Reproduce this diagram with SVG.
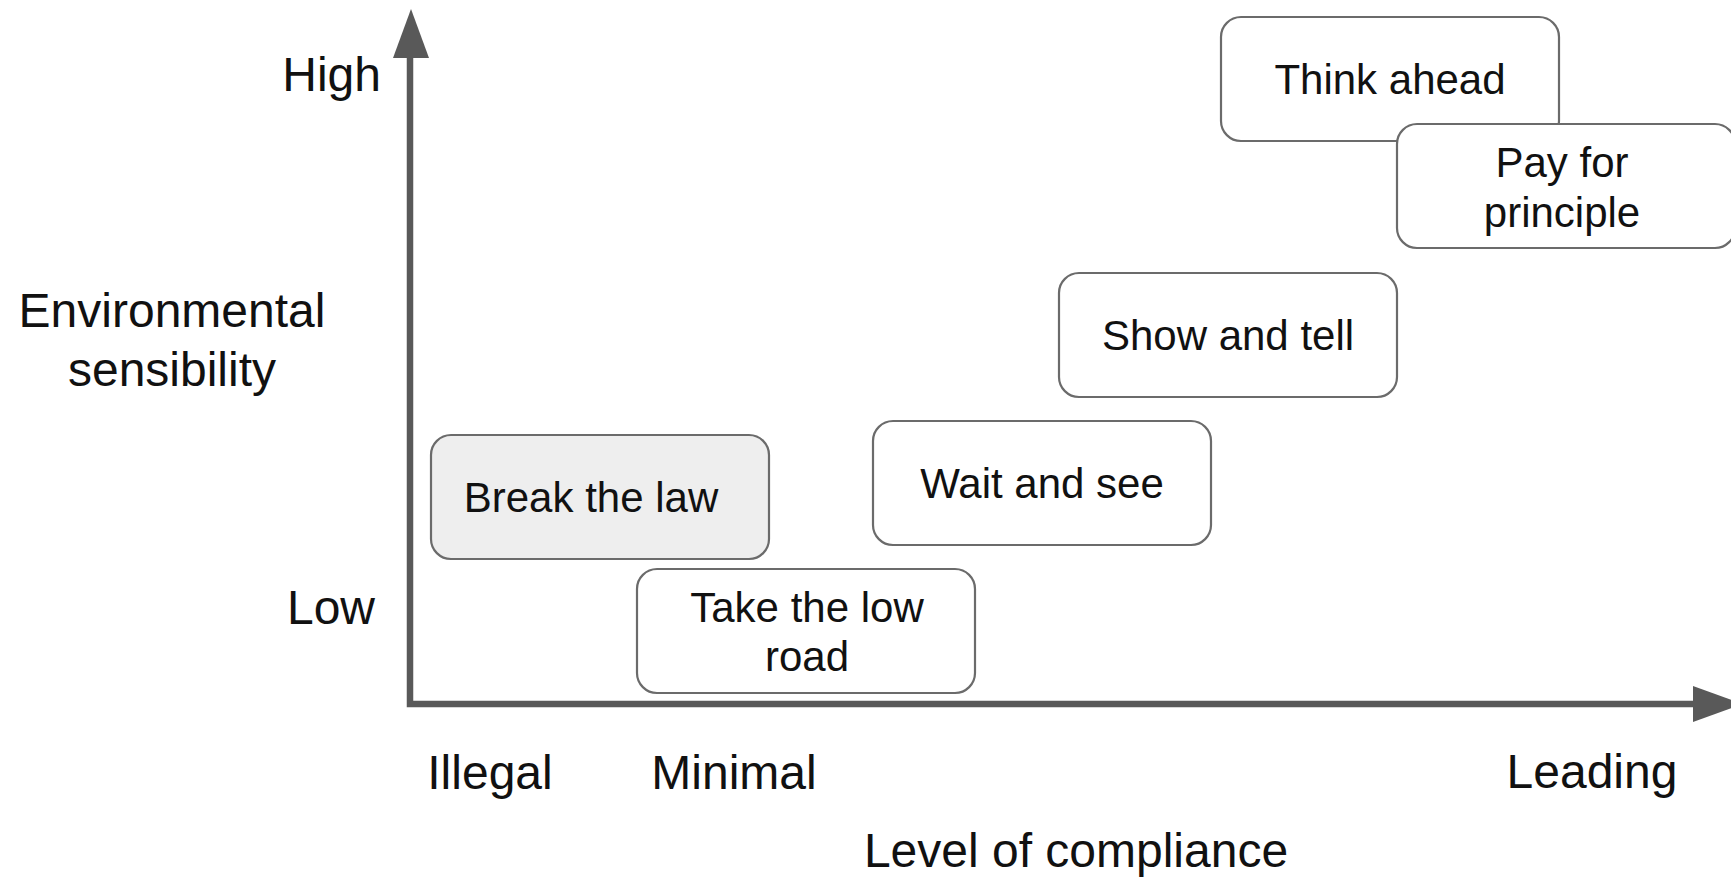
<svg xmlns="http://www.w3.org/2000/svg" width="1731" height="877" viewBox="0 0 1731 877">
<style>
.box{fill:#ffffff;stroke:#6b6b6b;stroke-width:2.2}
.grey{fill:#eeeeee}
.t{font-family:"Liberation Sans",Arial,sans-serif;font-size:42px;fill:#111111;text-anchor:middle}
.lab{font-family:"Liberation Sans",Arial,sans-serif;font-size:48px;fill:#111111}
.axis{fill:none;stroke:#595959;stroke-width:6.5;stroke-linejoin:miter}
.head{fill:#595959}
</style>
<rect width="1731" height="877" fill="#ffffff"/>
<g id="connectors">
<polyline class="axis" points="410,58 410,704 1694,704"/>
<polygon class="head" points="411,9 393,58 429,58"/>
<polygon class="head" points="1743,704 1693,686 1693,722"/>
</g>
<g id="labels">
<text class="lab" x="381" y="91" text-anchor="end">High</text>
<text class="lab" x="375" y="624" text-anchor="end">Low</text>
<text class="lab" x="172" y="327" text-anchor="middle">Environmental</text>
<text class="lab" x="172" y="386" text-anchor="middle">sensibility</text>
<text class="lab" x="490" y="789" text-anchor="middle">Illegal</text>
<text class="lab" x="734" y="789" text-anchor="middle">Minimal</text>
<text class="lab" x="1592" y="788" text-anchor="middle">Leading</text>
<text class="lab" x="1076" y="867" text-anchor="middle" font-size="49">Level of compliance</text>
</g>
<g id="node-think-ahead">
<rect class="box" x="1221" y="17" width="338" height="124" rx="20"/>
<text class="t" x="1390" y="94">Think ahead</text>
</g>
<g id="node-pay-for-principle">
<rect class="box" x="1397" y="124" width="338" height="124" rx="20"/>
<text class="t" x="1562" y="177">Pay for</text>
<text class="t" x="1562" y="227">principle</text>
</g>
<g id="node-show-and-tell">
<rect class="box" x="1059" y="273" width="338" height="124" rx="20"/>
<text class="t" x="1228" y="350">Show and tell</text>
</g>
<g id="node-wait-and-see">
<rect class="box" x="873" y="421" width="338" height="124" rx="20"/>
<text class="t" x="1042" y="498">Wait and see</text>
</g>
<g id="node-break-the-law">
<rect class="box grey" x="431" y="435" width="338" height="124" rx="20"/>
<text class="t" x="591" y="512">Break the law</text>
</g>
<g id="node-take-the-low-road">
<rect class="box" x="637" y="569" width="338" height="124" rx="20"/>
<text class="t" x="807" y="622">Take the low</text>
<text class="t" x="807" y="671">road</text>
</g>
</svg>
